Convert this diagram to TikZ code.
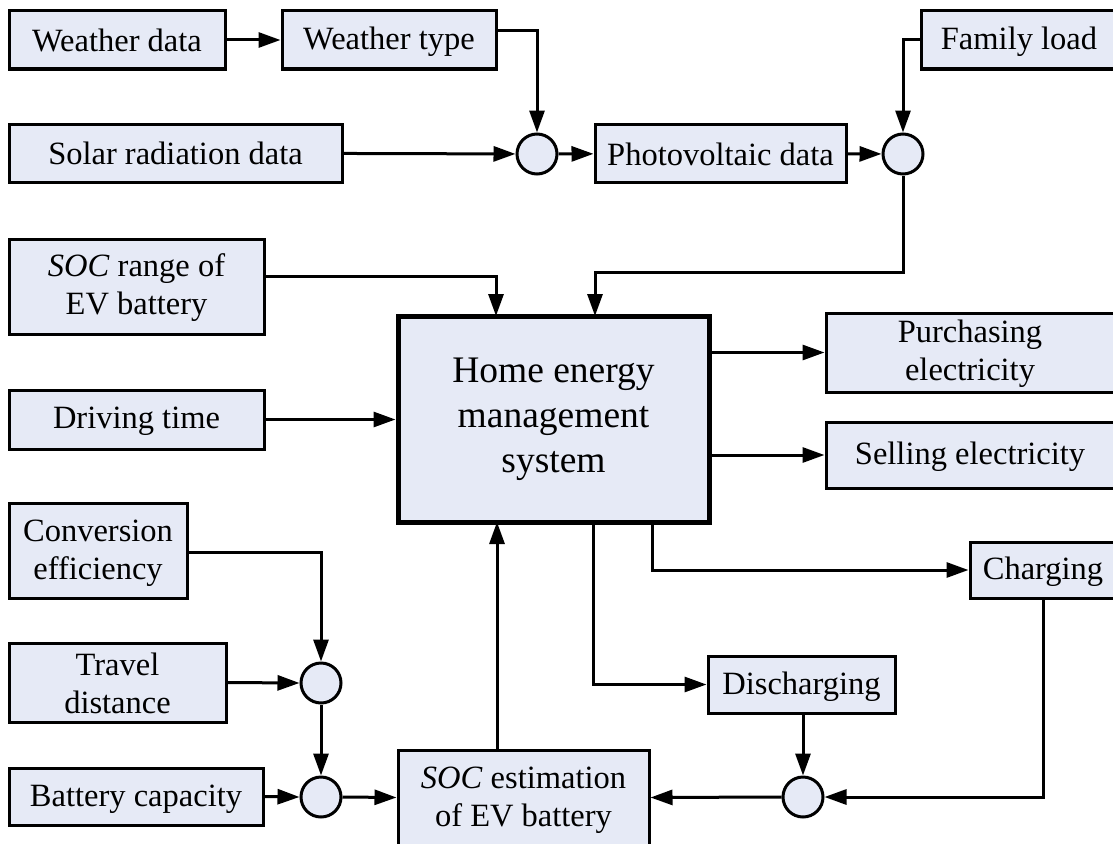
\documentclass[tikz,border=0pt]{standalone}
\usepackage{fontspec}
\setmainfont{Liberation Serif}
\usetikzlibrary{arrows.meta,calc}
\definecolor{boxfill}{RGB}{230,234,246}
\newcommand{\sr}{\rule[-3pt]{0pt}{29pt}}
\newcommand{\br}{\rule[-7pt]{0pt}{33pt}}
\tikzset{
  x=1pt, y=-1pt,
  blk/.style={draw, fill=boxfill, line width=3pt, align=center, inner sep=0pt,
    font=\fontsize{32.5}{38}\selectfont},
  bigblk/.style={draw, fill=boxfill, line width=5pt, align=center, inner sep=0pt,
    font=\fontsize{37.5}{45}\selectfont},
  sumc/.style={draw, fill=boxfill, circle, line width=3pt, minimum size=40pt, inner sep=0pt},
  arr/.style={line width=3pt, -{Triangle[length=22pt,width=15pt]}}
}
\begin{document}
\begin{tikzpicture}
\useasboundingbox (0,0) rectangle (1113,843);
% row 1
\node[blk, minimum width=216pt, minimum height=58pt] (wd) at (117,40) {\sr Weather data};
\node[blk, minimum width=214pt, minimum height=58pt] (wt) at (389,40) {\sr Weather type};
\node[blk, minimum width=196pt, minimum height=58pt] (fam) at (1019,40) {\sr Family load};
% row 2
\node[blk, minimum width=333pt, minimum height=58pt] (sol) at (175.5,153) {\sr Solar radiation data};
\node[sumc] (c1) at (537,154) {};
\node[blk, minimum width=251pt, minimum height=58pt] (pv) at (720.5,153.5) {\sr Photovoltaic data};
\node[sumc] (c2) at (903,154) {};
% left inputs
\node[blk, minimum width=255pt, minimum height=95pt] (socr) at (136.5,286.5) {\sr\textit{SOC} range of\\\sr EV battery};
\node[blk, minimum width=255pt, minimum height=59pt] (drv) at (136.5,419.5) {\sr Driving time};
% HEMS
\node[bigblk, minimum width=311pt, minimum height=206pt] (hems) at (553.5,419) {\br Home energy\\\br management\\\br system};
% outputs
\node[blk, minimum width=288pt, minimum height=79pt] (pur) at (970,352.5) {\sr Purchasing\\\sr electricity};
\node[blk, minimum width=288pt, minimum height=66pt] (sel) at (970,455) {\sr Selling electricity};
\node[blk, minimum width=146pt, minimum height=56pt] (chg) at (1043,570) {\sr Charging};
\node[blk, minimum width=187pt, minimum height=57pt] (dis) at (801.5,684.5) {\sr Discharging};
% lower left
\node[blk, minimum width=178pt, minimum height=95pt] (conv) at (98,550.5) {\sr Conversion\\\sr efficiency};
\node[blk, minimum width=217pt, minimum height=79pt] (trav) at (117.5,682.5) {\sr Travel\\\sr distance};
\node[sumc] (c3) at (321,683) {};
\node[blk, minimum width=254pt, minimum height=57pt] (bat) at (136,796.5) {\sr Battery capacity};
\node[sumc] (c4) at (321,797) {};
\node[blk, minimum width=251pt, minimum height=95pt] (soce) at (523.5,797.5) {\sr\textit{SOC} estimation\\\sr of EV battery};
\node[sumc] (c5) at (803,797) {};
% connection points on HEMS
\coordinate (hin1) at (496,316);
\coordinate (hin2) at (595,316);
\coordinate (hin3) at (497,522);
\coordinate (hout1) at (593,522);
\coordinate (hout2) at (652,522);
\coordinate (j1) at (595,272);
% connectors
\draw[arr] (wd) -- (wt);
\draw[arr] ([yshift=9pt]wt.east) -| (c1.north);
\draw[arr] (sol) -- (c1);
\draw[arr] (c1) -- (pv);
\draw[arr] (pv) -- (c2);
\draw[arr] (fam.west) -| (c2.north);
\draw[arr] (c2.south) |- (j1) -- (hin2);
\draw[arr] ([yshift=10pt]socr.east) -| (hin1);
\draw[arr] (drv.east) -- (drv.east -| hems.west);
\draw[arr] (hems.east |- pur.west) -- (pur.west);
\draw[arr] (hems.east |- sel.west) -- (sel.west);
\draw[arr] (hout2) |- (chg.west);
\draw[arr] (hout1) |- (dis.west);
\draw[arr] (soce.north -| hin3) -- (hin3);
\draw[arr] ([yshift=-2pt]conv.east) -| (c3.north);
\draw[arr] (trav.east) -- (c3.west);
\draw[arr] (c3.south) -- (c4.north);
\draw[arr] (bat.east) -- (c4.west);
\draw[arr] (c4.east) -- (soce.west);
\draw[arr] (c5.north |- dis.south) -- (c5.north);
\draw[arr] (chg.south) |- (c5.east);
\draw[arr] (c5.west) -- (soce.east);
\end{tikzpicture}
\end{document}
